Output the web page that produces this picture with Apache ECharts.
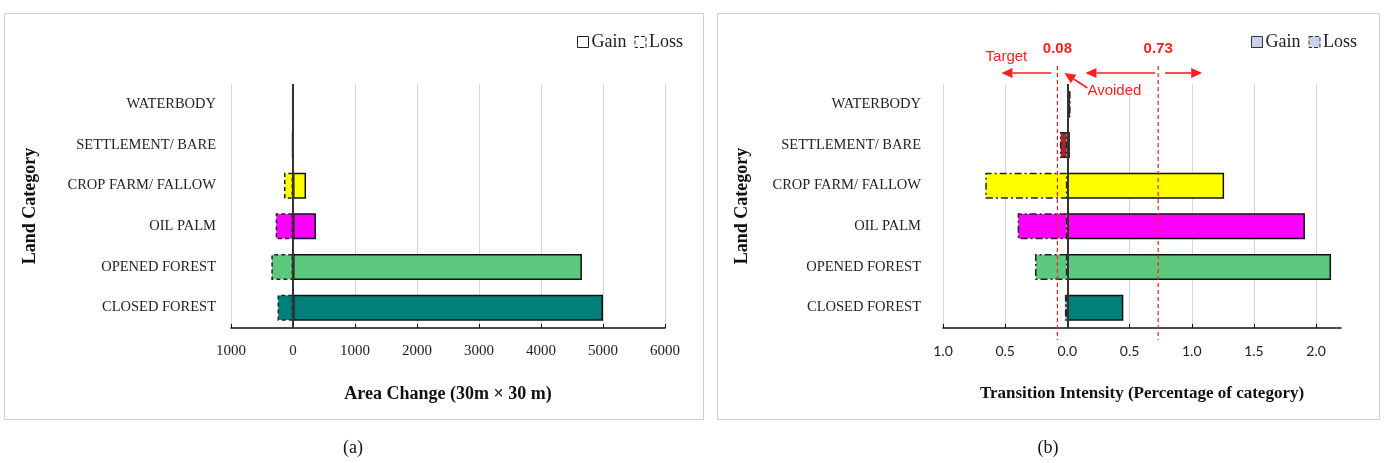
<!DOCTYPE html>
<html>
<head>
<meta charset="utf-8">
<script src="https://cdn.jsdelivr.net/npm/echarts@6/dist/echarts.min.js"></script>
<style>
  html, body { margin: 0; padding: 0; background: #fff; }
  #chart { width: 1386px; height: 463px; }
</style>
</head>
<body>
<div id="chart"></div>
<script>
// categories bottom -> top (category axis starts at the bottom)
const categories = ['CLOSED FOREST', 'OPENED FOREST', 'OIL PALM', 'CROP FARM/ FALLOW', 'SETTLEMENT/ BARE', 'WATERBODY'];
const categoryColors = ['#00807a', '#5cc87e', '#ff00ff', '#ffff00', '#a8232b', '#1f2f4f'];

// (a) area change, 30m x 30m pixels
const areaGain = [5000, 4660, 370, 210, 8, 5];
const areaLoss = [-250, -350, -280, -145, -15, -10];

// (b) transition intensity, % of category
const intensityGain = [0.45, 2.12, 1.91, 1.26, 0.02, 0.02];
const intensityLoss = [-0.02, -0.26, -0.40, -0.66, -0.06, 0];
const intensityMarks = [-0.08, 0.73];

const serif = '"Liberation Serif", "DejaVu Serif", serif';
const sans = '"Liberation Sans", Arial, sans-serif';
const red = '#ff1f1f';

const colored = (arr) => arr.map((v, i) => ({ value: v, itemStyle: { color: categoryColors[i] } }));

const zeroLine = {
	silent: true,
	symbol: 'none',
	label: { show: false },
	lineStyle: { color: '#333', width: 2, type: 'solid' },
	data: [{ xAxis: 0 }],
};

const xAxisBase = {
	type: 'value',
	axisLine: { show: true, onZero: false, lineStyle: { color: '#111', width: 1.5 } },
	axisTick: { show: true, inside: true, length: 4, lineStyle: { color: '#111' } },
	splitLine: { show: true, lineStyle: { color: '#d6d6d6', width: 1 } },
	nameLocation: 'middle',
	nameGap: 57,
	nameTextStyle: { fontFamily: serif, fontWeight: 'bold', fontSize: 18, color: '#111' },
};

const yAxisBase = {
	type: 'category',
	data: categories,
	axisLine: { show: false },
	axisTick: { show: false },
	splitLine: { show: false },
	axisLabel: { fontFamily: serif, fontSize: 14.5, color: '#222' },
	name: 'Land Category',
	nameLocation: 'middle',
	nameRotate: 90,
	nameGap: 192,
	nameTextStyle: { fontFamily: serif, fontWeight: 'bold', fontSize: 18, color: '#111' },
};

const legendBase = {
	top: 28,
	orient: 'horizontal',
	itemWidth: 11,
	itemHeight: 11,
	itemGap: 8,
	icon: 'rect',
	textStyle: { fontFamily: serif, fontSize: 18, color: '#222', padding: [0, 0, 0, -2] },
};

const option = {
	animation: false,
	backgroundColor: '#fff',
	grid: [
		{ left: 231, top: 84, width: 434, height: 244 },
		{ left: 943, top: 84, width: 398, height: 244 },
	],
	legend: [
		Object.assign({}, legendBase, {
			right: 698,
			data: [
				{ name: 'Gain', itemStyle: { color: '#fff', borderColor: '#222', borderWidth: 1 } },
				{ name: 'Loss', itemStyle: { color: '#fff', borderColor: '#222', borderWidth: 1, borderType: 'dashed' } },
			],
		}),
		Object.assign({}, legendBase, {
			right: 24,
			data: [
				{ name: 'Gain', itemStyle: { color: '#cad3ea', borderColor: '#333', borderWidth: 1 } },
				{ name: 'Loss', itemStyle: { color: '#cad3ea', borderColor: '#333', borderWidth: 1, borderType: 'dashed' } },
			],
		}),
	],
	xAxis: [
		Object.assign({}, xAxisBase, {
			gridIndex: 0,
			min: -1000,
			max: 6000,
			interval: 1000,
			name: 'Area Change (30m × 30 m)',
			axisLabel: {
				margin: 16,
				fontFamily: serif,
				fontSize: 15,
				color: '#222',
				formatter: (v) => String(Math.abs(v)),
			},
		}),
		Object.assign({}, xAxisBase, {
			gridIndex: 1,
			min: -1,
			max: 2.2,
			interval: 0.5,
			name: 'Transition Intensity (Percentage of category)',
			nameTextStyle: { fontFamily: serif, fontWeight: 'bold', fontSize: 17, color: '#111' },
			splitLine: { show: true, showMaxLine: false, lineStyle: { color: '#d6d6d6', width: 1 } },
			axisLabel: {
				margin: 16,
				fontFamily: 'Lato, "Liberation Sans", sans-serif',
				fontSize: 14,
				color: '#222',
				showMaxLabel: false,
				formatter: (v) => Math.abs(v).toFixed(1),
			},
		}),
	],
	yAxis: [
		Object.assign({}, yAxisBase, { gridIndex: 0, axisLabel: Object.assign({}, yAxisBase.axisLabel, { margin: 15 }) }),
		Object.assign({}, yAxisBase, { gridIndex: 1, axisLabel: Object.assign({}, yAxisBase.axisLabel, { margin: 22 }) }),
	],
	series: [
		{
			name: 'Gain', type: 'bar', xAxisIndex: 0, yAxisIndex: 0, stack: 'area', barWidth: 26,
			itemStyle: { borderColor: '#111', borderWidth: 1.5 },
			data: colored(areaGain),
			markLine: zeroLine,
		},
		{
			name: 'Loss', type: 'bar', xAxisIndex: 0, yAxisIndex: 0, stack: 'area', barWidth: 26,
			itemStyle: { borderColor: '#222', borderWidth: 1.5, borderType: [4, 3] },
			data: colored(areaLoss),
		},
		{
			name: 'Gain', type: 'bar', xAxisIndex: 1, yAxisIndex: 1, stack: 'intensity', barWidth: 26,
			itemStyle: { borderColor: '#111', borderWidth: 1.5 },
			data: colored(intensityGain),
			markLine: zeroLine,
		},
		{
			name: 'Loss', type: 'bar', xAxisIndex: 1, yAxisIndex: 1, stack: 'intensity', barWidth: 26,
			itemStyle: { borderColor: '#222', borderWidth: 1.5, borderType: [7, 3, 2, 3] },
			data: colored(intensityLoss),
		},
	],
};

const myChart = echarts.init(document.getElementById('chart'), null, { renderer: 'canvas' });
myChart.setOption(option);

// arrow: line plus filled head at (x2, y2)
const arrow = (x1, y1, x2, y2) => {
	const ang = Math.atan2(y2 - y1, x2 - x1);
	const L = 11, W = 5;
	const bx = x2 - L * Math.cos(ang), by = y2 - L * Math.sin(ang);
	const nx = -Math.sin(ang), ny = Math.cos(ang);
	return [
		{ type: 'line', silent: true, shape: { x1, y1, x2: bx, y2: by }, style: { stroke: red, lineWidth: 1.6 } },
		{ type: 'polygon', silent: true, shape: { points: [[x2, y2], [bx + nx * W, by + ny * W], [bx - nx * W, by - ny * W]] }, style: { fill: red } },
	];
};

const px = (v) => myChart.convertToPixel({ xAxisIndex: 1 }, v);
const t = px(intensityMarks[0]);
const a = px(intensityMarks[1]);

const graphics = [
	{ type: 'rect', silent: true, z: -10, shape: { x: 4.5, y: 13.5, width: 699, height: 406 }, style: { fill: 'none', stroke: '#cfcfcf', lineWidth: 1 } },
	{ type: 'rect', silent: true, z: -10, shape: { x: 717.5, y: 13.5, width: 662, height: 406 }, style: { fill: 'none', stroke: '#cfcfcf', lineWidth: 1 } },
	{ type: 'text', silent: true, x: 353, y: 448, style: { text: '(a)', font: '18px ' + serif, fill: '#111', align: 'center', verticalAlign: 'middle' } },
	{ type: 'text', silent: true, x: 1048, y: 448, style: { text: '(b)', font: '18px ' + serif, fill: '#111', align: 'center', verticalAlign: 'middle' } },
];

intensityMarks.forEach((m) => {
	const x = px(m);
	graphics.push({ type: 'line', silent: true, z: 50, shape: { x1: x, y1: 66, x2: x, y2: 340 }, style: { stroke: red, lineWidth: 1.2, lineDash: [4, 3] } });
	graphics.push({ type: 'text', silent: true, x: x, y: 49, style: { text: Math.abs(m).toFixed(2), font: 'bold 15px ' + sans, fill: red, align: 'center', verticalAlign: 'middle' } });
});

graphics.push({ type: 'text', silent: true, x: t - 51, y: 57, style: { text: 'Target', font: '15px ' + sans, fill: red, align: 'center', verticalAlign: 'middle' } });
graphics.push({ type: 'text', silent: true, x: t + 30, y: 91, style: { text: 'Avoided', font: '15px ' + sans, fill: red, align: 'left', verticalAlign: 'middle' } });
graphics.push(...arrow(t - 6, 73, t - 56, 73));
graphics.push(...arrow(a - 3, 73, t + 28, 73));
graphics.push(...arrow(a + 7, 73, a + 44, 73));
graphics.push(...arrow(t + 30, 88, t + 7, 73));

myChart.setOption({ graphic: graphics });
</script>
</body>
</html>
